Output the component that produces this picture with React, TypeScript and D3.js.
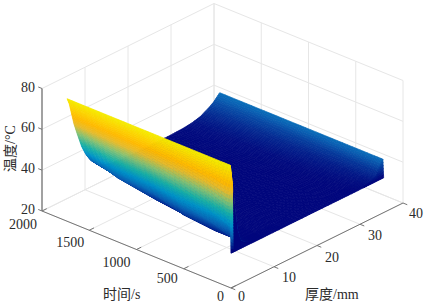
import React from 'react'
import * as d3 from 'd3'

const timeTicks = [0, 500, 1000, 1500, 2000]
const depthTicks = [0, 10, 20, 30, 40]
const tempTicks = [20, 40, 60, 80]

// thickness stations (mm) and time rows (s)
const depths = [0, 0.5, 1, 1.6, 2.4, 3.4, 4.4, 5.4, 6.5, 7.7, 10, 12, 15, 20, 24, 27, 29, 31, 32.5, 34, 35.5]
const times = [0, 8, 100, 330, 660, 1000, 1400, 1735]
const temps = [
  [37, 37, 37, 37, 37, 37, 37, 37, 37, 37, 37, 37, 37, 37, 37, 37, 37, 37, 37, 37, 37],
  [80, 70, 58, 47, 40.4, 38.5, 37.3, 37, 37, 37, 37, 37, 37, 37, 37, 37, 37, 37.4, 38, 40, 46],
  [80, 70, 58, 47, 40.4, 38.5, 37.3, 37, 37, 37, 37, 37, 37, 37, 37, 37, 37.1, 37.6, 38.3, 40.4, 46],
  [80, 72, 62, 52, 44, 38.5, 37, 37, 37, 37, 37, 37, 37, 37, 37, 37, 37.2, 37.9, 38.6, 40.8, 46],
  [80, 74, 66, 56, 47, 40, 38.1, 37, 37, 37, 37, 37, 37, 37, 37, 37.1, 37.3, 38.2, 39, 41.2, 46],
  [80, 75, 68, 60, 52, 45, 40, 38.2, 37.1, 37, 37, 37, 37, 37, 37, 37.2, 37.5, 38.5, 39.6, 41.8, 46],
  [80, 76, 70, 63, 55, 48, 43, 41.2, 39, 37.6, 37.1, 37, 37, 37, 37.1, 37.3, 37.7, 38.8, 40.2, 42.4, 46],
  [80, 77, 72, 66, 60, 53, 48, 44.4, 41.8, 39.6, 37.8, 37.2, 37, 37, 37.1, 37.4, 37.9, 39, 40.7, 42.8, 46],
]

const colorStops = ['#00067c', '#0a62b4', '#0093c9', '#18b0a6', '#86c173', '#e6bb2c', '#ffb900', '#fcd200', '#f5ea00']
const stopAt = [0, 0.17, 0.3, 0.42, 0.56, 0.68, 0.78, 0.89, 1]

const width = 425
const height = 304

// oblique projection: each axis contributes its own screen offset
const tx = d3.scaleLinear().domain([0, 2000]).range([0, -189])
const ty = d3.scaleLinear().domain([0, 2000]).range([0, -77])
const dx = d3.scaleLinear().domain([0, 40]).range([0, 172])
const dy = d3.scaleLinear().domain([0, 40]).range([0, -85])
const zy = d3.scaleLinear().domain([20, 80]).range([0, -122.5])

const project = (t: number, d: number, z: number): [number, number] => [
  231 + tx(t) + dx(d),
  288 + ty(t) + dy(d) + zy(z),
]

const color = d3.scaleLinear<string>().domain(stopAt.map(f => 37 + f * 43)).range(colorStops).clamp(true)

const seg = (a: [number, number], b: [number, number]) => `M${a[0]},${a[1]}L${b[0]},${b[1]}`

const lerp = (a: number, b: number, f: number) => a + (b - a) * f

// split each read-off cell so the shading stays smooth, back to front
function buildQuads() {
  const quads: { path: string; fill: string }[] = []
  const sub = 6
  for (let i = times.length - 2; i >= 0; i--) {
    for (let j = depths.length - 2; j >= 0; j--) {
      // the t=0 wall is flat navy, apart from the thin sliver at d=0 and the rising far edge
      let nT = sub
      if (i === 0) nT = j === 0 ? 24 : depths[j] < 30 ? 1 : sub
      for (let a = nT - 1; a >= 0; a--) {
        for (let b = sub - 1; b >= 0; b--) {
          const at = (p: number, q: number) => {
            const ft = p / nT
            const fd = q / sub
            const z = lerp(lerp(temps[i][j], temps[i][j + 1], fd), lerp(temps[i + 1][j], temps[i + 1][j + 1], fd), ft)
            return { t: lerp(times[i], times[i + 1], ft), d: lerp(depths[j], depths[j + 1], fd), z }
          }
          const corners = [at(a, b), at(a + 1, b), at(a + 1, b + 1), at(a, b + 1)]
          const path = d3.line()(corners.map(c => project(c.t, c.d, c.z))) + 'Z'
          quads.push({ path, fill: color(corners[0].z) })
        }
      }
    }
  }
  return quads
}

const fontStack = '"Liberation Serif", "Noto Sans CJK SC", serif'
const gridColor = '#e6e6e6'
const axisColor = '#757575'
const textColor = '#2b2b2b'

const timeLabelOffset = [[-7, 13], [-6, 14], [-6, 17.5], [-5, 17], [-5, 18]]
const depthLabelOffset = [[7, 13], [8, 15], [8, 16], [8, 16], [6, 15]]

export default function App() {
  const quads = buildQuads()
  return (
    <svg width={width} height={height} style={{ position: 'absolute', left: 0, top: 0, background: '#fff' }}>
      <g stroke={gridColor} strokeWidth={1} fill="none">
        {tempTicks.map(z => (
          <g key={z}>
            <path d={seg(project(2000, 0, z), project(2000, 40, z))} />
            <path d={seg(project(2000, 40, z), project(0, 40, z))} />
          </g>
        ))}
        {timeTicks.map(t => (
          <g key={t}>
            <path d={seg(project(t, 0, 20), project(t, 40, 20))} />
            <path d={seg(project(t, 40, 20), project(t, 40, 80))} />
          </g>
        ))}
        {depthTicks.map(d => (
          <g key={d}>
            <path d={seg(project(0, d, 20), project(2000, d, 20))} />
            <path d={seg(project(2000, d, 20), project(2000, d, 80))} />
          </g>
        ))}
      </g>
      <g>
        {quads.map((q, i) => (
          <path key={i} d={q.path} fill={q.fill} stroke={q.fill} strokeWidth={0.7} />
        ))}
      </g>
      <g stroke={axisColor} strokeWidth={1} fill="none">
        <path d={seg(project(2000, 0, 20), project(2000, 0, 80))} strokeWidth={1.3} />
        <path d={seg(project(2000, 0, 20), project(0, 0, 20))} />
        <path d={seg(project(0, 0, 20), project(0, 40, 20))} />
        {tempTicks.map(z => (
          <path key={z} d={seg(project(2000, 0, z), project(2040, 0, z))} />
        ))}
        {timeTicks.map(t => (
          <path key={t} d={seg(project(t, 0, 20), project(t, 1.1, 20))} />
        ))}
        {depthTicks.map(d => (
          <path key={d} d={seg(project(0, d, 20), project(-45, d, 20))} />
        ))}
      </g>
      <g fontFamily={fontStack} fontSize={14} fill={textColor}>
        {tempTicks.map(z => {
          const [x, y] = project(2000, 0, z)
          return <text key={z} x={x - 7} y={y + 3} textAnchor="end">{z}</text>
        })}
        {timeTicks.map((t, i) => {
          const [x, y] = project(t, 0, 20)
          return <text key={t} x={x + timeLabelOffset[i][0]} y={y + timeLabelOffset[i][1]} textAnchor="end">{t}</text>
        })}
        {depthTicks.map((d, i) => {
          const [x, y] = project(0, d, 20)
          return <text key={d} x={x + depthLabelOffset[i][0]} y={y + depthLabelOffset[i][1]}>{d}</text>
        })}
        <text x={103} y={299} fontSize={14}>时间/s</text>
        <text x={305} y={299} fontSize={14}>厚度/mm</text>
        <text transform="translate(15,172) rotate(-90)" fontSize={14}>温度/°C</text>
      </g>
    </svg>
  )
}
